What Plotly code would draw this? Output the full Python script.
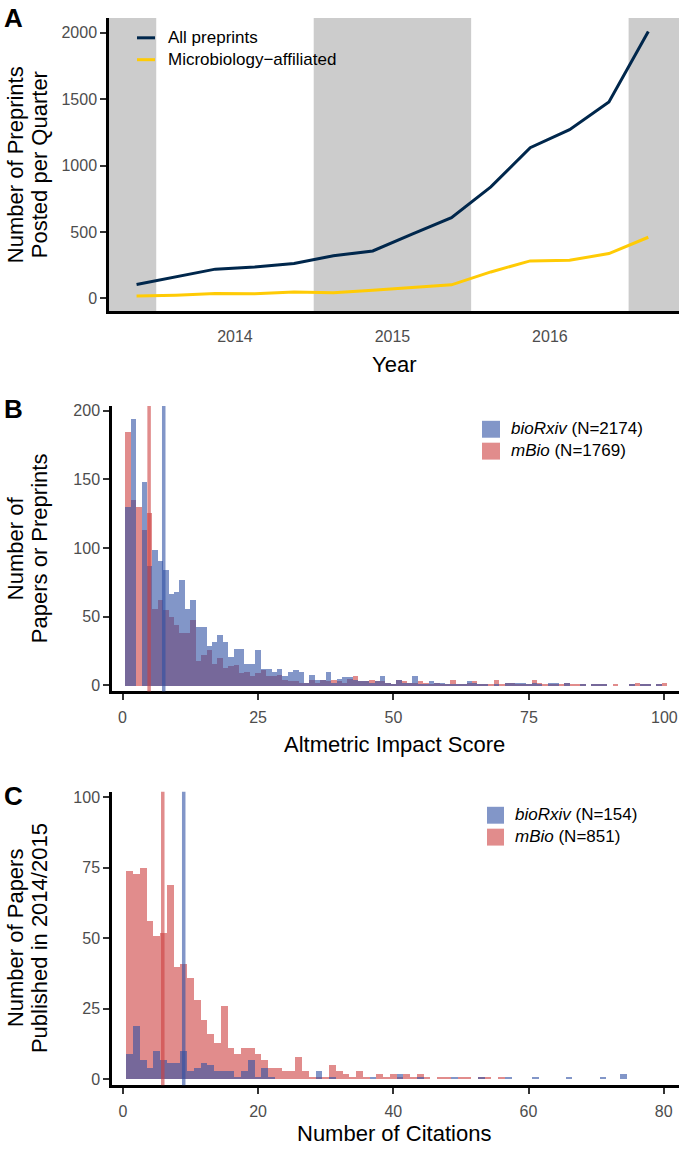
import plotly.graph_objects as go

# ---------------- Panel A data ----------------
quarters = ["2013-Q4", "2014-Q1", "2014-Q2", "2014-Q3", "2014-Q4", "2015-Q1", "2015-Q2",
            "2015-Q3", "2015-Q4", "2016-Q1", "2016-Q2", "2016-Q3", "2016-Q4", "2017-Q1"]
all_preprints = [105, 163, 221, 238, 263, 321, 358, 484, 609, 840, 1135, 1271, 1479, 2010]
micro_preprints = [18, 25, 38, 35, 48, 43, 63, 83, 103, 200, 283, 288, 338, 461]
year_tick_labels = ["2014", "2015", "2016"]
shaded_years = [2013, 2015, 2017]
a_yticks = [0, 500, 1000, 1500, 2000]

# ---------------- Panel B data (Altmetric, bin width 1) ----------------
altmetric_bins = list(range(1, 101))
altmetric_biorxiv = [130, 194, 0, 148, 87, 99, 91, 84, 67, 68, 77, 56, 62, 43, 43, 29, 32, 37, 32, 21,
                     27, 27, 16, 16, 26, 12, 12, 10, 12, 7, 10, 11, 10, 2, 8, 4, 4, 10, 2, 5,
                     6, 6, 4, 3, 3, 2, 3, 7, 2, 1, 4, 2, 2, 7, 1, 1, 3, 2, 2, 1,
                     1, 1, 1, 3, 2, 1, 1, 0, 1, 0, 2, 2, 2, 2, 1, 2, 1, 0, 2, 2,
                     0, 2, 0, 0, 1, 0, 1, 1, 1, 0, 0, 0, 0, 1, 0, 1, 1, 0, 1, 0]
altmetric_mbio = [185, 135, 130, 113, 126, 56, 62, 55, 50, 44, 38, 38, 48, 18, 22, 26, 16, 20, 13, 14,
                  15, 9, 10, 7, 9, 11, 7, 7, 8, 4, 3, 3, 2, 2, 4, 2, 4, 3, 4, 3,
                  2, 5, 7, 3, 3, 4, 3, 3, 2, 1, 4, 3, 2, 2, 3, 2, 1, 2, 1, 1,
                  4, 1, 1, 2, 3, 1, 1, 1, 4, 1, 2, 2, 1, 1, 1, 4, 2, 1, 1, 1,
                  1, 2, 1, 1, 1, 0, 1, 1, 1, 0, 1, 0, 0, 1, 2, 1, 1, 0, 1, 2]
altmetric_median_biorxiv = 7.6
altmetric_median_mbio = 4.9
b_xticks = [0, 25, 50, 75, 100]
b_yticks = [0, 50, 100, 150, 200]

# ---------------- Panel C data (citations, bin width 1) ----------------
citation_bins = list(range(1, 76))
citations_biorxiv = [9, 19, 7, 4, 10, 7, 6, 6, 10, 3, 4, 6, 5, 3, 3, 3, 1, 3, 7, 1,
                     4, 1, 0, 0, 0, 0, 0, 0, 3, 0, 1, 0, 0, 0, 0, 0, 1, 0, 0, 0,
                     2, 0, 0, 1, 0, 0, 0, 0, 1, 0, 0, 0, 1, 0, 0, 0, 1, 0, 0, 0,
                     1, 0, 0, 0, 0, 1, 0, 0, 0, 0, 1, 0, 0, 2, 0]
citations_mbio = [74, 73, 75, 56, 51, 52, 69, 40, 41, 36, 28, 21, 16, 13, 26, 11, 9, 11, 11, 9,
                  7, 4, 4, 3, 3, 8, 3, 1, 1, 1, 5, 3, 2, 1, 3, 1, 0, 2, 1, 2,
                  1, 2, 1, 2, 1, 0, 1, 1, 0, 1, 1, 0, 1, 1, 0, 1, 0, 0, 0, 0,
                  0, 0, 0, 0, 0, 0, 0, 0, 0, 0, 0, 0, 0, 0, 0]
citation_median_biorxiv = 9
citation_median_mbio = 5.9
c_xticks = [0, 20, 40, 60, 80]
c_yticks = [0, 25, 50, 75, 100]

# ---------------- styling ----------------
W, H = 680, 1150
FONT = "Liberation Sans, Arial, Helvetica, sans-serif"
NAVY = "#00274C"
MAIZE = "#FFCB05"
BLUE = "rgba(47,80,163,0.6)"
RED = "rgba(205,63,63,0.6)"
BAND = "#CCCCCC"
TICKFONT = dict(family=FONT, size=16, color="#4D4D4D")


def xd(l, r):
    return [l / W, r / W]


def yd(t, b):
    return [1 - b / H, 1 - t / H]


def px(x):
    return x / W


def py(y):
    return 1 - y / H


qx = [int(q.split("-Q")[0]) + (int(q.split("-Q")[1]) - 0.5) / 4 for q in quarters]

fig = go.Figure()

# Panel A lines
fig.add_trace(go.Scatter(x=qx, y=all_preprints, mode="lines", name="All preprints",
                         line=dict(color=NAVY, width=3), xaxis="x", yaxis="y", showlegend=False))
fig.add_trace(go.Scatter(x=qx, y=micro_preprints, mode="lines", name="Microbiology\u2212affiliated",
                         line=dict(color=MAIZE, width=3), xaxis="x", yaxis="y", showlegend=False))

# Panel B histograms
fig.add_trace(go.Bar(x=altmetric_bins, y=altmetric_mbio, width=1, marker=dict(color=RED, line=dict(width=0)),
                     name="mBio", xaxis="x2", yaxis="y2", showlegend=False))
fig.add_trace(go.Bar(x=altmetric_bins, y=altmetric_biorxiv, width=1, marker=dict(color=BLUE, line=dict(width=0)),
                     name="bioRxiv", xaxis="x2", yaxis="y2", showlegend=False))

# Panel C histograms
fig.add_trace(go.Bar(x=citation_bins, y=citations_mbio, width=1, marker=dict(color=RED, line=dict(width=0)),
                     name="mBio", xaxis="x3", yaxis="y3", showlegend=False))
fig.add_trace(go.Bar(x=citation_bins, y=citations_biorxiv, width=1, marker=dict(color=BLUE, line=dict(width=0)),
                     name="bioRxiv", xaxis="x3", yaxis="y3", showlegend=False))

A_XR = [2013.7, 2017.32]
shapes = []
for yr in shaded_years:
    shapes.append(dict(type="rect", xref="x", yref="y domain", x0=max(yr, A_XR[0]), x1=min(yr + 1, A_XR[1]),
                       y0=0, y1=1, fillcolor=BAND, line=dict(width=0), layer="below"))

for med, col, xr, yr in [(altmetric_median_mbio, RED, "x2", "y2 domain"),
                         (altmetric_median_biorxiv, BLUE, "x2", "y2 domain"),
                         (citation_median_mbio, RED, "x3", "y3 domain"),
                         (citation_median_biorxiv, BLUE, "x3", "y3 domain")]:
    shapes.append(dict(type="line", xref=xr, yref=yr, x0=med, x1=med, y0=0, y1=1,
                       line=dict(color=col, width=3.5), layer="above"))

# manual legends
# A
for (yy, col) in [(35, NAVY), (57, MAIZE)]:
    shapes.append(dict(type="line", xref="paper", yref="paper", x0=px(137), x1=px(155), y0=py(yy), y1=py(yy),
                       line=dict(color=col, width=3)))
# B
for (t, b, col) in [(420, 437, BLUE), (442, 459, RED)]:
    shapes.append(dict(type="rect", xref="paper", yref="paper", x0=px(482), x1=px(500), y0=py(b), y1=py(t),
                       fillcolor=col, line=dict(width=0)))
# C
for (t, b, col) in [(808, 825, BLUE), (830, 847, RED)]:
    shapes.append(dict(type="rect", xref="paper", yref="paper", x0=px(487), x1=px(504), y0=py(b), y1=py(t),
                       fillcolor=col, line=dict(width=0)))

annotations = []


def ann(text, x, y, size=17, xanchor="left", angle=0, bold=False, color="black"):
    annotations.append(dict(text=("<b>%s</b>" % text) if bold else text, x=px(x), y=py(y), xref="paper",
                            yref="paper", showarrow=False, xanchor=xanchor, yanchor="middle", textangle=angle,
                            font=dict(family=FONT, size=size, color=color)))


ann("All preprints", 166, 35)
ann("Microbiology\u2212affiliated", 166, 57)
ann("<i>bioRxiv</i> (N=2174)", 509, 428)
ann("<i>mBio</i> (N=1769)", 509, 450)
ann("<i>bioRxiv</i> (N=154)", 513, 816)
ann("<i>mBio</i> (N=851)", 513, 838)

# panel letters
ann("A", 2, 15, size=26, bold=True)
ann("B", 2, 408, size=26, bold=True)
ann("C", 2, 797, size=26, bold=True)

# axis titles
ann("Year", 394, 363, size=22, xanchor="center")
ann("Altmetric Impact Score", 394, 745, size=22, xanchor="center")
ann("Number of Citations", 394, 1136, size=22, xanchor="center")
ann("Number of Preprints", 15, 163, size=22, xanchor="center", angle=-90)
ann("Posted per Quarter", 39, 163, size=22, xanchor="center", angle=-90)
ann("Number of", 15, 548, size=22, xanchor="center", angle=-90)
ann("Papers or Preprints", 39, 548, size=22, xanchor="center", angle=-90)
ann("Number of Papers", 15, 940, size=22, xanchor="center", angle=-90)
ann("Published in 2014/2015", 39, 940, size=22, xanchor="center", angle=-90)

axis_common = dict(showline=True, linecolor="black", linewidth=2.5, showgrid=False, zeroline=False,
                   tickfont=TICKFONT, ticks="outside", ticklen=6, tickwidth=2, tickcolor="#333333")

fig.update_layout(
    width=W, height=H, margin=dict(l=0, r=0, t=0, b=0),
    paper_bgcolor="white", plot_bgcolor="white",
    barmode="overlay", bargap=0, showlegend=False,
    shapes=shapes, annotations=annotations,
    xaxis=dict(domain=xd(109, 679), range=A_XR, anchor="y",
               tickvals=[int(t) + 0.5 for t in year_tick_labels], ticktext=year_tick_labels,
               **{**axis_common, "ticklen": 9, "tickcolor": "rgba(0,0,0,0)"}),
    yaxis=dict(domain=yd(15, 310), range=[-97, 2112], anchor="x", tickvals=a_yticks, **axis_common),
    xaxis2=dict(domain=xd(112, 679), range=[-1.95, 102.7], anchor="y2", tickvals=b_xticks,
                ticklabelstandoff=4, **axis_common),
    yaxis2=dict(domain=yd(405, 692), range=[-4.3, 203.6], anchor="x2", tickvals=b_yticks, **axis_common),
    xaxis3=dict(domain=xd(112, 679), range=[-1.61, 82.26], anchor="y3", tickvals=c_xticks,
                ticklabelstandoff=4, **axis_common),
    yaxis3=dict(domain=yd(793, 1088), range=[-2.12, 101.9], anchor="x3", tickvals=c_yticks, **axis_common),
)

fig.write_html("out.html", config={"displayModeBar": False},
               post_script="document.body.style.margin='0';document.body.style.overflow='hidden';")
